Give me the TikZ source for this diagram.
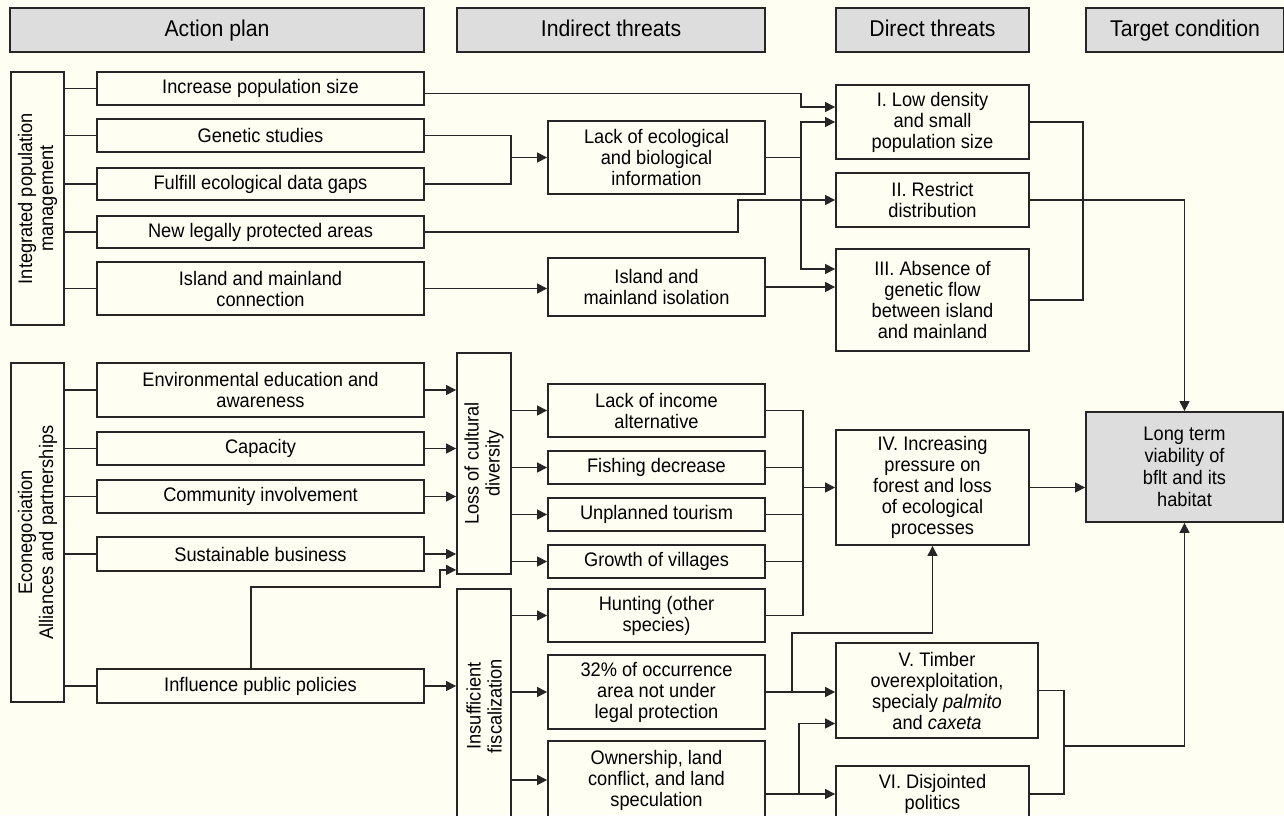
\documentclass[tikz,border=0pt]{standalone}
\usepackage{fontspec}
\setmainfont{Liberation Sans}[FakeStretch=0.93]
\usepackage{xcolor}
\usetikzlibrary{arrows.meta, positioning, calc}
\definecolor{paper}{RGB}{254,254,243}
\definecolor{headgray}{RGB}{221,221,221}
\newcommand\pxu{0.5pt}

\begin{document}
\begin{tikzpicture}[x=0.5pt, y=-0.5pt,
  every node/.style={font=\fontsize{9.8}{10.5}\selectfont, align=center},
  sz/.style 2 args={minimum width=#1*\pxu, minimum height=#2*\pxu},
  box/.style={draw=black!85, line width=0.9pt, inner sep=0pt},
  head/.style={box, fill=headgray, font=\fontsize{11.4}{12}\selectfont,
    text height=1.6ex, text depth=0.45ex},
  link/.style={line width=0.6pt, black!85},
  arr/.style={link, -{Triangle[length=5pt, width=5pt]}}]

  % Page
  \useasboundingbox (0,0) rectangle (1284,815);
  \fill[paper] (0,0) rectangle (1284,815);

  % Column headers
  \node[head, sz={414}{44}] (hAct) at (217,30) {Action plan};
  \node[head, sz={308}{44}] (hInd) at (611,30) {Indirect threats};
  \node[head, sz={193}{44}] (hDir) at (932.5,30) {Direct threats};
  \node[head, sz={198}{44}] (hTgt) at (1185,30) {Target condition};

  % Action plan groups
  \node[box, sz={53}{253}] (gIPM) at (37.5,198.5) {};
  \node[rotate=90] (gIPMtxt) at (gIPM) {Integrated population\\management};
  \node[box, sz={53}{339}] (gECO) at (37.5,532.5) {};
  \node[rotate=90] (gECOtxt) at (gECO) {Econegociation\\Alliances and partnerships};

  % Actions
  \node[box, sz={327}{33}] (aIncr) at (260.5,88.5) {Increase population size};
  \node[box, sz={327}{33}] (aGen) at (260.5,135.5) {Genetic studies};
  \node[box, sz={327}{32}] (aFul) at (260.5,184) {Fulfill ecological data gaps};
  \node[box, sz={327}{32}] (aNew) at (260.5,232) {New legally protected areas};
  \node[box, sz={327}{53}] (aIsl) at (260.5,288.5) {Island and mainland\\connection};
  \node[box, sz={327}{54}] (aEnv) at (260.5,390) {Environmental education and\\awareness};
  \node[box, sz={327}{33}] (aCap) at (260.5,448.5) {Capacity};
  \node[box, sz={327}{33}] (aCom) at (260.5,496.5) {Community involvement};
  \node[box, sz={327}{34}] (aSus) at (260.5,554) {Sustainable business};
  \node[box, sz={327}{34}] (aInf) at (260.5,686) {Influence public policies};

  % Indirect threats
  \node[box, sz={54}{221}] (gLoss) at (484,463.5) {};
  \node[rotate=90] (gLossTxt) at (gLoss) {Loss of cultural\\diversity};
  \node[box, sz={54}{234}] (gIns) at (484,706) {};
  \node[rotate=90] (gInsTxt) at (gIns) {Insufficient\\fiscalization};

  \node[box, sz={217}{73}] (iLack) at (656.5,157.5) {Lack of ecological\\and biological\\information};
  \node[box, sz={217}{58}] (iIsol) at (656.5,287) {Island and\\mainland isolation};
  \node[box, sz={217}{53}] (iInc) at (656.5,410.5) {Lack of income\\alternative};
  \node[box, sz={217}{33}] (iFish) at (656.5,467.5) {Fishing decrease};
  \node[box, sz={217}{33}] (iTour) at (656.5,514.5) {Unplanned tourism};
  \node[box, sz={217}{33}] (iVil) at (656.5,561.5) {Growth of villages};
  \node[box, sz={217}{53}] (iHunt) at (656.5,615.5) {Hunting (other\\species)};
  \node[box, sz={217}{74}] (iOcc) at (656.5,692) {32\% of occurrence\\area not under\\legal protection};
  \node[box, sz={217}{78}] (iOwn) at (656.5,780) {Ownership, land\\conflict, and land\\speculation};

  % Direct threats
  \node[box, sz={193}{74}] (dI) at (932.5,122) {I. Low density\\and small\\population size};
  \node[box, sz={193}{54}] (dII) at (932.5,200) {II. Restrict\\distribution};
  \node[box, sz={193}{102}] (dIII) at (932.5,300) {III. Absence of\\genetic flow\\between island\\and mainland};
  \node[box, sz={193}{115}] (dIV) at (932.5,487.5) {IV. Increasing\\pressure on\\forest and loss\\of ecological\\processes};
  \node[box, sz={202}{95}] (dV) at (937,690.5) {V. Timber\\overexploitation,\\specialy \textit{palmito}\\and \textit{caxeta}};
  \node[box, sz={193}{56}] (dVI) at (932.5,794) {VI. Disjointed\\politics};

  % Target condition
  \node[box, fill=headgray, sz={197}{110}, font=\fontsize{9.8}{11}\selectfont] (tLong) at (1184.5,467) {Long term\\viability of\\bflt and its\\habitat};

  % Bend points
  \coordinate (cA) at (801,0);
  \coordinate (cN) at (738,0);
  \coordinate (jG) at (511,0);
  \coordinate (cR) at (1083,0);
  \coordinate (bInf) at (251,587);
  \coordinate (cInf) at (440,0);
  \coordinate (cB) at (803,0);
  \coordinate (cC) at (792,633);
  \coordinate (cE) at (799,0);
  \coordinate (cF) at (1064,746);
  \coordinate (outIncr) at ([yshift=-2.5pt]aIncr.east);
  \coordinate (inI1) at ([yshift=7.5pt]dI.west);
  \coordinate (inIII1) at ([yshift=15.5pt]dIII.west);
  \coordinate (inIII2) at ([yshift=6.5pt]dIII.west);
  \coordinate (inLoss) at ([yshift=2.5pt]gLoss.south west);
  \coordinate (inV2) at ([yshift=-16.5pt]dV.west);

  % Group links
  \foreach \a in {aIncr,aGen,aFul,aNew,aIsl}
    \draw[link] (gIPM.east |- \a.west) -- (\a.west);
  \foreach \a in {aEnv,aCap,aCom,aSus,aInf}
    \draw[link] (gECO.east |- \a.west) -- (\a.west);

  % Upper chain
  \draw[arr] (outIncr) -| (cA |- inI1) -- (inI1);
  \draw[link] (aGen.east) -| (jG |- iLack.west);
  \draw[link] (aFul.east) -| (jG |- iLack.west);
  \draw[arr] (jG |- iLack.west) -- (iLack.west);
  \draw[arr] (iLack.east) -| (cA |- dI.west) -- (dI.west);
  \draw[arr] (iLack.east) -| (cA |- inIII1) -- (inIII1);
  \draw[arr] (aNew.east) -| (cN |- dII.west) -- (dII.west);
  \draw[arr] (aIsl.east) -- (aIsl.east -| iIsol.west);
  \draw[arr] (iIsol.east) -- (inIII2);
  \draw[link] (dI.east) -| (cR |- dIII.east) -- (dIII.east);
  \draw[arr] (dII.east) -| (tLong.north);

  % Lower chain
  \foreach \a in {aEnv,aCap,aCom,aSus}
    \draw[arr] (\a.east) -- (\a.east -| gLoss.west);
  \draw[arr] (aInf.north -| bInf) -- (bInf) -| (cInf |- inLoss) -- (inLoss);
  \draw[arr] (aInf.east) -- (aInf.east -| gIns.west);
  \foreach \a in {iInc,iFish,iTour,iVil}
    \draw[arr] (gLoss.east |- \a.west) -- (\a.west);
  \foreach \a in {iHunt,iOcc,iOwn}
    \draw[arr] (gIns.east |- \a.west) -- (\a.west);

  \foreach \a in {iInc,iHunt}
    \draw[link] (\a.east) -| (cB |- dIV.west);
  \foreach \a in {iFish,iTour,iVil}
    \draw[link] (\a.east) -- (\a.east -| cB);
  \draw[arr] (cB |- dIV.west) -- (dIV.west);

  \draw[arr] (iOcc.east) -- (iOcc.east -| dV.west);
  \draw[arr] (iOcc.east -| cC) -- (cC) -| (dIV.south);
  \draw[arr] (iOwn.east |- dVI.west) -- (dVI.west);
  \draw[arr] (cE |- dVI.west) |- (inV2);

  \draw[link] (dV.east) -| (cF |- dVI.east) -- (dVI.east);
  \draw[arr] (cF) -| (tLong.south);
  \draw[arr] (dIV.east) -- (dIV.east -| tLong.west);
\end{tikzpicture}
\end{document}
